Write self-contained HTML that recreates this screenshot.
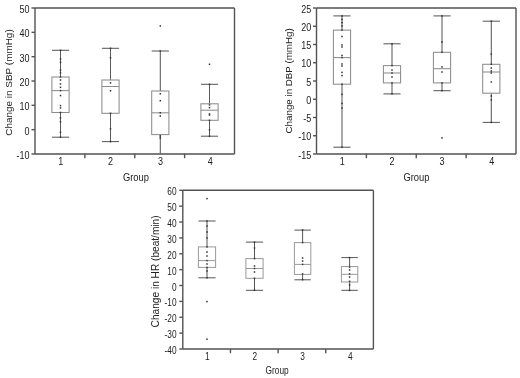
<!DOCTYPE html>
<html><head><meta charset="utf-8"><style>
html,body{margin:0;padding:0;background:#fff;}
svg{display:block;filter:blur(0.3px);}
text{font-family:"Liberation Sans", sans-serif;fill:#222;}
</style></head><body>
<svg width="520" height="378" viewBox="0 0 520 378">
<rect width="520" height="378" fill="#fff"/>
<line x1="35.00" y1="8.00" x2="234.50" y2="8.00" stroke="#525252" stroke-width="1.4"/>
<line x1="234.50" y1="8.00" x2="234.50" y2="154.00" stroke="#525252" stroke-width="1.4"/>
<line x1="35.00" y1="154.00" x2="234.50" y2="154.00" stroke="#525252" stroke-width="1.4"/>
<line x1="35.00" y1="8.00" x2="35.00" y2="154.00" stroke="#525252" stroke-width="1.4"/>
<line x1="31.50" y1="8.00" x2="35.00" y2="8.00" stroke="#525252" stroke-width="1.4"/>
<text x="0" y="0" font-size="10.5" text-anchor="end" transform="translate(29.60,13.00) scale(0.86,1)" >50</text>
<line x1="31.50" y1="32.33" x2="35.00" y2="32.33" stroke="#525252" stroke-width="1.4"/>
<text x="0" y="0" font-size="10.5" text-anchor="end" transform="translate(29.60,37.33) scale(0.86,1)" >40</text>
<line x1="31.50" y1="56.67" x2="35.00" y2="56.67" stroke="#525252" stroke-width="1.4"/>
<text x="0" y="0" font-size="10.5" text-anchor="end" transform="translate(29.60,61.67) scale(0.86,1)" >30</text>
<line x1="31.50" y1="81.00" x2="35.00" y2="81.00" stroke="#525252" stroke-width="1.4"/>
<text x="0" y="0" font-size="10.5" text-anchor="end" transform="translate(29.60,86.00) scale(0.86,1)" >20</text>
<line x1="31.50" y1="105.33" x2="35.00" y2="105.33" stroke="#525252" stroke-width="1.4"/>
<text x="0" y="0" font-size="10.5" text-anchor="end" transform="translate(29.60,110.33) scale(0.86,1)" >10</text>
<line x1="31.50" y1="129.67" x2="35.00" y2="129.67" stroke="#525252" stroke-width="1.4"/>
<text x="0" y="0" font-size="10.5" text-anchor="end" transform="translate(29.60,134.67) scale(0.86,1)" >0</text>
<line x1="31.50" y1="154.00" x2="35.00" y2="154.00" stroke="#525252" stroke-width="1.4"/>
<text x="0" y="0" font-size="10.5" text-anchor="end" transform="translate(29.60,159.00) scale(0.86,1)" >-10</text>
<line x1="84.88" y1="154.00" x2="84.88" y2="158.20" stroke="#525252" stroke-width="1.4"/>
<line x1="134.75" y1="154.00" x2="134.75" y2="158.20" stroke="#525252" stroke-width="1.4"/>
<line x1="184.62" y1="154.00" x2="184.62" y2="158.20" stroke="#525252" stroke-width="1.4"/>
<text x="0" y="0" font-size="10.5" text-anchor="middle" transform="translate(60.74,165.00) scale(0.86,1)" >1</text>
<text x="0" y="0" font-size="10.5" text-anchor="middle" transform="translate(110.61,165.00) scale(0.86,1)" >2</text>
<text x="0" y="0" font-size="10.5" text-anchor="middle" transform="translate(160.49,165.00) scale(0.86,1)" >3</text>
<text x="0" y="0" font-size="10.5" text-anchor="middle" transform="translate(210.36,165.00) scale(0.86,1)" >4</text>
<text x="0" y="0" font-size="10.2" text-anchor="middle" transform="translate(135.95,180.70) scale(0.92,1)" >Group</text>
<text x="0" y="0" font-size="9.95" text-anchor="middle" transform="translate(12.00,82.50) rotate(-90) scale(1.0,1)">Change in SBP (mmHg)</text>
<line x1="60.50" y1="50.30" x2="60.50" y2="77.00" stroke="#5a5a5a" stroke-width="1.05"/>
<line x1="60.50" y1="112.50" x2="60.50" y2="137.20" stroke="#5a5a5a" stroke-width="1.05"/>
<line x1="51.90" y1="50.30" x2="69.10" y2="50.30" stroke="#5a5a5a" stroke-width="1.05"/>
<line x1="51.90" y1="137.20" x2="69.10" y2="137.20" stroke="#5a5a5a" stroke-width="1.05"/>
<rect x="51.90" y="77.00" width="17.20" height="35.50" fill="none" stroke="#8c8c8c" stroke-width="1.05"/>
<line x1="51.90" y1="90.60" x2="69.10" y2="90.60" stroke="#8c8c8c" stroke-width="1.05"/>
<rect x="59.75" y="49.55" width="1.50" height="1.50" fill="#333"/>
<rect x="59.75" y="58.15" width="1.50" height="1.50" fill="#333"/>
<rect x="59.75" y="61.45" width="1.50" height="1.50" fill="#333"/>
<rect x="59.75" y="69.35" width="1.50" height="1.50" fill="#333"/>
<rect x="59.75" y="72.05" width="1.50" height="1.50" fill="#333"/>
<rect x="59.75" y="76.25" width="1.50" height="1.50" fill="#333"/>
<rect x="59.75" y="79.25" width="1.50" height="1.50" fill="#333"/>
<rect x="59.75" y="83.25" width="1.50" height="1.50" fill="#333"/>
<rect x="59.75" y="86.55" width="1.50" height="1.50" fill="#333"/>
<rect x="59.75" y="89.85" width="1.50" height="1.50" fill="#333"/>
<rect x="59.75" y="94.85" width="1.50" height="1.50" fill="#333"/>
<rect x="59.75" y="104.85" width="1.50" height="1.50" fill="#333"/>
<rect x="59.75" y="107.15" width="1.50" height="1.50" fill="#333"/>
<rect x="59.75" y="111.75" width="1.50" height="1.50" fill="#333"/>
<rect x="59.75" y="117.05" width="1.50" height="1.50" fill="#333"/>
<rect x="59.75" y="120.95" width="1.50" height="1.50" fill="#333"/>
<rect x="59.75" y="131.55" width="1.50" height="1.50" fill="#333"/>
<rect x="59.75" y="136.45" width="1.50" height="1.50" fill="#333"/>
<line x1="110.50" y1="48.30" x2="110.50" y2="80.00" stroke="#5a5a5a" stroke-width="1.05"/>
<line x1="110.50" y1="113.30" x2="110.50" y2="141.60" stroke="#5a5a5a" stroke-width="1.05"/>
<line x1="101.90" y1="48.30" x2="119.10" y2="48.30" stroke="#5a5a5a" stroke-width="1.05"/>
<line x1="101.90" y1="141.60" x2="119.10" y2="141.60" stroke="#5a5a5a" stroke-width="1.05"/>
<rect x="101.90" y="80.00" width="17.20" height="33.30" fill="none" stroke="#8c8c8c" stroke-width="1.05"/>
<line x1="101.90" y1="86.50" x2="119.10" y2="86.50" stroke="#8c8c8c" stroke-width="1.05"/>
<rect x="109.75" y="47.55" width="1.50" height="1.50" fill="#333"/>
<rect x="109.75" y="57.05" width="1.50" height="1.50" fill="#333"/>
<rect x="109.75" y="82.15" width="1.50" height="1.50" fill="#333"/>
<rect x="109.75" y="90.05" width="1.50" height="1.50" fill="#333"/>
<rect x="109.75" y="112.55" width="1.50" height="1.50" fill="#333"/>
<rect x="109.75" y="128.15" width="1.50" height="1.50" fill="#333"/>
<rect x="109.75" y="140.85" width="1.50" height="1.50" fill="#333"/>
<line x1="160.30" y1="51.00" x2="160.30" y2="91.00" stroke="#5a5a5a" stroke-width="1.05"/>
<line x1="160.30" y1="134.60" x2="160.30" y2="154.00" stroke="#5a5a5a" stroke-width="1.05"/>
<line x1="151.70" y1="51.00" x2="168.90" y2="51.00" stroke="#5a5a5a" stroke-width="1.05"/>
<rect x="151.70" y="91.00" width="17.20" height="43.60" fill="none" stroke="#8c8c8c" stroke-width="1.05"/>
<line x1="151.70" y1="112.80" x2="168.90" y2="112.80" stroke="#8c8c8c" stroke-width="1.05"/>
<rect x="159.55" y="50.25" width="1.50" height="1.50" fill="#333"/>
<rect x="159.55" y="93.05" width="1.50" height="1.50" fill="#333"/>
<rect x="159.55" y="99.95" width="1.50" height="1.50" fill="#333"/>
<rect x="159.55" y="112.05" width="1.50" height="1.50" fill="#333"/>
<rect x="159.55" y="115.25" width="1.50" height="1.50" fill="#333"/>
<rect x="159.55" y="135.25" width="1.50" height="1.50" fill="#333"/>
<rect x="159.55" y="137.25" width="1.50" height="1.50" fill="#333"/>
<rect x="159.55" y="25.25" width="1.50" height="1.50" fill="#333"/>
<line x1="209.50" y1="84.30" x2="209.50" y2="103.80" stroke="#5a5a5a" stroke-width="1.05"/>
<line x1="209.50" y1="120.30" x2="209.50" y2="136.20" stroke="#5a5a5a" stroke-width="1.05"/>
<line x1="200.90" y1="84.30" x2="218.10" y2="84.30" stroke="#5a5a5a" stroke-width="1.05"/>
<line x1="200.90" y1="136.20" x2="218.10" y2="136.20" stroke="#5a5a5a" stroke-width="1.05"/>
<rect x="200.90" y="103.80" width="17.20" height="16.50" fill="none" stroke="#8c8c8c" stroke-width="1.05"/>
<line x1="200.90" y1="110.20" x2="218.10" y2="110.20" stroke="#8c8c8c" stroke-width="1.05"/>
<rect x="208.75" y="83.55" width="1.50" height="1.50" fill="#333"/>
<rect x="208.75" y="104.15" width="1.50" height="1.50" fill="#333"/>
<rect x="208.75" y="106.85" width="1.50" height="1.50" fill="#333"/>
<rect x="208.75" y="113.25" width="1.50" height="1.50" fill="#333"/>
<rect x="208.75" y="114.25" width="1.50" height="1.50" fill="#333"/>
<rect x="208.75" y="119.55" width="1.50" height="1.50" fill="#333"/>
<rect x="208.75" y="129.05" width="1.50" height="1.50" fill="#333"/>
<rect x="208.75" y="135.45" width="1.50" height="1.50" fill="#333"/>
<rect x="208.75" y="63.55" width="1.50" height="1.50" fill="#333"/>
<line x1="316.50" y1="8.00" x2="516.00" y2="8.00" stroke="#525252" stroke-width="1.4"/>
<line x1="516.00" y1="8.00" x2="516.00" y2="154.00" stroke="#525252" stroke-width="1.4"/>
<line x1="316.50" y1="154.00" x2="516.00" y2="154.00" stroke="#525252" stroke-width="1.4"/>
<line x1="316.50" y1="8.00" x2="316.50" y2="154.00" stroke="#525252" stroke-width="1.4"/>
<line x1="313.00" y1="8.00" x2="316.50" y2="8.00" stroke="#525252" stroke-width="1.4"/>
<text x="0" y="0" font-size="10.5" text-anchor="end" transform="translate(311.30,12.60) scale(0.86,1)" >25</text>
<line x1="313.00" y1="26.25" x2="316.50" y2="26.25" stroke="#525252" stroke-width="1.4"/>
<text x="0" y="0" font-size="10.5" text-anchor="end" transform="translate(311.30,30.85) scale(0.86,1)" >20</text>
<line x1="313.00" y1="44.50" x2="316.50" y2="44.50" stroke="#525252" stroke-width="1.4"/>
<text x="0" y="0" font-size="10.5" text-anchor="end" transform="translate(311.30,49.10) scale(0.86,1)" >15</text>
<line x1="313.00" y1="62.75" x2="316.50" y2="62.75" stroke="#525252" stroke-width="1.4"/>
<text x="0" y="0" font-size="10.5" text-anchor="end" transform="translate(311.30,67.35) scale(0.86,1)" >10</text>
<line x1="313.00" y1="81.00" x2="316.50" y2="81.00" stroke="#525252" stroke-width="1.4"/>
<text x="0" y="0" font-size="10.5" text-anchor="end" transform="translate(311.30,85.60) scale(0.86,1)" >5</text>
<line x1="313.00" y1="99.25" x2="316.50" y2="99.25" stroke="#525252" stroke-width="1.4"/>
<text x="0" y="0" font-size="10.5" text-anchor="end" transform="translate(311.30,103.85) scale(0.86,1)" >0</text>
<line x1="313.00" y1="117.50" x2="316.50" y2="117.50" stroke="#525252" stroke-width="1.4"/>
<text x="0" y="0" font-size="10.5" text-anchor="end" transform="translate(311.30,122.10) scale(0.86,1)" >-5</text>
<line x1="313.00" y1="135.75" x2="316.50" y2="135.75" stroke="#525252" stroke-width="1.4"/>
<text x="0" y="0" font-size="10.5" text-anchor="end" transform="translate(311.30,140.35) scale(0.86,1)" >-10</text>
<line x1="313.00" y1="154.00" x2="316.50" y2="154.00" stroke="#525252" stroke-width="1.4"/>
<text x="0" y="0" font-size="10.5" text-anchor="end" transform="translate(311.30,158.60) scale(0.86,1)" >-15</text>
<line x1="366.38" y1="154.00" x2="366.38" y2="158.20" stroke="#525252" stroke-width="1.4"/>
<line x1="416.25" y1="154.00" x2="416.25" y2="158.20" stroke="#525252" stroke-width="1.4"/>
<line x1="466.12" y1="154.00" x2="466.12" y2="158.20" stroke="#525252" stroke-width="1.4"/>
<text x="0" y="0" font-size="10.5" text-anchor="middle" transform="translate(342.24,165.00) scale(0.86,1)" >1</text>
<text x="0" y="0" font-size="10.5" text-anchor="middle" transform="translate(392.11,165.00) scale(0.86,1)" >2</text>
<text x="0" y="0" font-size="10.5" text-anchor="middle" transform="translate(441.99,165.00) scale(0.86,1)" >3</text>
<text x="0" y="0" font-size="10.5" text-anchor="middle" transform="translate(491.86,165.00) scale(0.86,1)" >4</text>
<text x="0" y="0" font-size="10.2" text-anchor="middle" transform="translate(416.45,180.90) scale(0.92,1)" >Group</text>
<text x="0" y="0" font-size="9.77" text-anchor="middle" transform="translate(292.00,80.90) rotate(-90) scale(1.0,1)">Change in DBP (mmHg)</text>
<line x1="342.00" y1="15.90" x2="342.00" y2="30.10" stroke="#5a5a5a" stroke-width="1.05"/>
<line x1="342.00" y1="84.20" x2="342.00" y2="147.20" stroke="#5a5a5a" stroke-width="1.05"/>
<line x1="333.40" y1="15.90" x2="350.60" y2="15.90" stroke="#5a5a5a" stroke-width="1.05"/>
<line x1="333.40" y1="147.20" x2="350.60" y2="147.20" stroke="#5a5a5a" stroke-width="1.05"/>
<rect x="333.40" y="30.10" width="17.20" height="54.10" fill="none" stroke="#8c8c8c" stroke-width="1.05"/>
<line x1="333.40" y1="57.60" x2="350.60" y2="57.60" stroke="#8c8c8c" stroke-width="1.05"/>
<rect x="341.25" y="15.15" width="1.50" height="1.50" fill="#333"/>
<rect x="341.25" y="18.75" width="1.50" height="1.50" fill="#333"/>
<rect x="341.25" y="21.95" width="1.50" height="1.50" fill="#333"/>
<rect x="341.25" y="25.15" width="1.50" height="1.50" fill="#333"/>
<rect x="341.25" y="29.35" width="1.50" height="1.50" fill="#333"/>
<rect x="341.25" y="35.75" width="1.50" height="1.50" fill="#333"/>
<rect x="341.25" y="44.25" width="1.50" height="1.50" fill="#333"/>
<rect x="341.25" y="46.25" width="1.50" height="1.50" fill="#333"/>
<rect x="341.25" y="54.75" width="1.50" height="1.50" fill="#333"/>
<rect x="341.25" y="56.85" width="1.50" height="1.50" fill="#333"/>
<rect x="341.25" y="63.25" width="1.50" height="1.50" fill="#333"/>
<rect x="341.25" y="65.25" width="1.50" height="1.50" fill="#333"/>
<rect x="341.25" y="71.65" width="1.50" height="1.50" fill="#333"/>
<rect x="341.25" y="74.85" width="1.50" height="1.50" fill="#333"/>
<rect x="341.25" y="83.45" width="1.50" height="1.50" fill="#333"/>
<rect x="341.25" y="93.55" width="1.50" height="1.50" fill="#333"/>
<rect x="341.25" y="102.65" width="1.50" height="1.50" fill="#333"/>
<rect x="341.25" y="107.35" width="1.50" height="1.50" fill="#333"/>
<rect x="341.25" y="146.45" width="1.50" height="1.50" fill="#333"/>
<line x1="392.00" y1="43.80" x2="392.00" y2="65.60" stroke="#5a5a5a" stroke-width="1.05"/>
<line x1="392.00" y1="82.90" x2="392.00" y2="93.90" stroke="#5a5a5a" stroke-width="1.05"/>
<line x1="383.40" y1="43.80" x2="400.60" y2="43.80" stroke="#5a5a5a" stroke-width="1.05"/>
<line x1="383.40" y1="93.90" x2="400.60" y2="93.90" stroke="#5a5a5a" stroke-width="1.05"/>
<rect x="383.40" y="65.60" width="17.20" height="17.30" fill="none" stroke="#8c8c8c" stroke-width="1.05"/>
<line x1="383.40" y1="73.00" x2="400.60" y2="73.00" stroke="#8c8c8c" stroke-width="1.05"/>
<rect x="391.25" y="43.05" width="1.50" height="1.50" fill="#333"/>
<rect x="391.25" y="64.85" width="1.50" height="1.50" fill="#333"/>
<rect x="391.25" y="69.25" width="1.50" height="1.50" fill="#333"/>
<rect x="391.25" y="72.25" width="1.50" height="1.50" fill="#333"/>
<rect x="391.25" y="76.25" width="1.50" height="1.50" fill="#333"/>
<rect x="391.25" y="82.15" width="1.50" height="1.50" fill="#333"/>
<rect x="391.25" y="93.15" width="1.50" height="1.50" fill="#333"/>
<line x1="442.00" y1="15.90" x2="442.00" y2="52.30" stroke="#5a5a5a" stroke-width="1.05"/>
<line x1="442.00" y1="82.90" x2="442.00" y2="90.70" stroke="#5a5a5a" stroke-width="1.05"/>
<line x1="433.40" y1="15.90" x2="450.60" y2="15.90" stroke="#5a5a5a" stroke-width="1.05"/>
<line x1="433.40" y1="90.70" x2="450.60" y2="90.70" stroke="#5a5a5a" stroke-width="1.05"/>
<rect x="433.40" y="52.30" width="17.20" height="30.60" fill="none" stroke="#8c8c8c" stroke-width="1.05"/>
<line x1="433.40" y1="68.70" x2="450.60" y2="68.70" stroke="#8c8c8c" stroke-width="1.05"/>
<rect x="441.25" y="15.15" width="1.50" height="1.50" fill="#333"/>
<rect x="441.25" y="41.25" width="1.50" height="1.50" fill="#333"/>
<rect x="441.25" y="51.55" width="1.50" height="1.50" fill="#333"/>
<rect x="441.25" y="66.25" width="1.50" height="1.50" fill="#333"/>
<rect x="441.25" y="71.25" width="1.50" height="1.50" fill="#333"/>
<rect x="441.25" y="82.15" width="1.50" height="1.50" fill="#333"/>
<rect x="441.25" y="89.95" width="1.50" height="1.50" fill="#333"/>
<rect x="441.25" y="137.15" width="1.50" height="1.50" fill="#333"/>
<line x1="491.30" y1="21.20" x2="491.30" y2="64.30" stroke="#5a5a5a" stroke-width="1.05"/>
<line x1="491.30" y1="93.20" x2="491.30" y2="122.40" stroke="#5a5a5a" stroke-width="1.05"/>
<line x1="482.70" y1="21.20" x2="499.90" y2="21.20" stroke="#5a5a5a" stroke-width="1.05"/>
<line x1="482.70" y1="122.40" x2="499.90" y2="122.40" stroke="#5a5a5a" stroke-width="1.05"/>
<rect x="482.70" y="64.30" width="17.20" height="28.90" fill="none" stroke="#8c8c8c" stroke-width="1.05"/>
<line x1="482.70" y1="72.00" x2="499.90" y2="72.00" stroke="#8c8c8c" stroke-width="1.05"/>
<rect x="490.55" y="20.45" width="1.50" height="1.50" fill="#333"/>
<rect x="490.55" y="53.25" width="1.50" height="1.50" fill="#333"/>
<rect x="490.55" y="63.55" width="1.50" height="1.50" fill="#333"/>
<rect x="490.55" y="67.25" width="1.50" height="1.50" fill="#333"/>
<rect x="490.55" y="70.25" width="1.50" height="1.50" fill="#333"/>
<rect x="490.55" y="72.25" width="1.50" height="1.50" fill="#333"/>
<rect x="490.55" y="81.25" width="1.50" height="1.50" fill="#333"/>
<rect x="490.55" y="95.25" width="1.50" height="1.50" fill="#333"/>
<rect x="490.55" y="99.25" width="1.50" height="1.50" fill="#333"/>
<rect x="490.55" y="121.65" width="1.50" height="1.50" fill="#333"/>
<line x1="182.80" y1="190.30" x2="373.40" y2="190.30" stroke="#525252" stroke-width="1.4"/>
<line x1="373.40" y1="190.30" x2="373.40" y2="349.00" stroke="#525252" stroke-width="1.4"/>
<line x1="182.80" y1="349.00" x2="373.40" y2="349.00" stroke="#525252" stroke-width="1.4"/>
<line x1="182.80" y1="190.30" x2="182.80" y2="349.00" stroke="#525252" stroke-width="1.4"/>
<line x1="179.30" y1="190.30" x2="182.80" y2="190.30" stroke="#525252" stroke-width="1.4"/>
<text x="0" y="0" font-size="10.5" text-anchor="end" transform="translate(176.50,195.30) scale(0.79,1)" >60</text>
<line x1="179.30" y1="206.17" x2="182.80" y2="206.17" stroke="#525252" stroke-width="1.4"/>
<text x="0" y="0" font-size="10.5" text-anchor="end" transform="translate(176.50,211.17) scale(0.79,1)" >50</text>
<line x1="179.30" y1="222.04" x2="182.80" y2="222.04" stroke="#525252" stroke-width="1.4"/>
<text x="0" y="0" font-size="10.5" text-anchor="end" transform="translate(176.50,227.04) scale(0.79,1)" >40</text>
<line x1="179.30" y1="237.91" x2="182.80" y2="237.91" stroke="#525252" stroke-width="1.4"/>
<text x="0" y="0" font-size="10.5" text-anchor="end" transform="translate(176.50,242.91) scale(0.79,1)" >30</text>
<line x1="179.30" y1="253.78" x2="182.80" y2="253.78" stroke="#525252" stroke-width="1.4"/>
<text x="0" y="0" font-size="10.5" text-anchor="end" transform="translate(176.50,258.78) scale(0.79,1)" >20</text>
<line x1="179.30" y1="269.65" x2="182.80" y2="269.65" stroke="#525252" stroke-width="1.4"/>
<text x="0" y="0" font-size="10.5" text-anchor="end" transform="translate(176.50,274.65) scale(0.79,1)" >10</text>
<line x1="179.30" y1="285.52" x2="182.80" y2="285.52" stroke="#525252" stroke-width="1.4"/>
<text x="0" y="0" font-size="10.5" text-anchor="end" transform="translate(176.50,290.52) scale(0.79,1)" >0</text>
<line x1="179.30" y1="301.39" x2="182.80" y2="301.39" stroke="#525252" stroke-width="1.4"/>
<text x="0" y="0" font-size="10.5" text-anchor="end" transform="translate(176.50,306.39) scale(0.79,1)" >-10</text>
<line x1="179.30" y1="317.26" x2="182.80" y2="317.26" stroke="#525252" stroke-width="1.4"/>
<text x="0" y="0" font-size="10.5" text-anchor="end" transform="translate(176.50,322.26) scale(0.79,1)" >-20</text>
<line x1="179.30" y1="333.13" x2="182.80" y2="333.13" stroke="#525252" stroke-width="1.4"/>
<text x="0" y="0" font-size="10.5" text-anchor="end" transform="translate(176.50,338.13) scale(0.79,1)" >-30</text>
<line x1="179.30" y1="349.00" x2="182.80" y2="349.00" stroke="#525252" stroke-width="1.4"/>
<text x="0" y="0" font-size="10.5" text-anchor="end" transform="translate(176.50,354.00) scale(0.79,1)" >-40</text>
<line x1="230.45" y1="349.00" x2="230.45" y2="353.20" stroke="#525252" stroke-width="1.4"/>
<line x1="278.10" y1="349.00" x2="278.10" y2="353.20" stroke="#525252" stroke-width="1.4"/>
<line x1="325.75" y1="349.00" x2="325.75" y2="353.20" stroke="#525252" stroke-width="1.4"/>
<text x="0" y="0" font-size="10.5" text-anchor="middle" transform="translate(207.22,360.00) scale(0.79,1)" >1</text>
<text x="0" y="0" font-size="10.5" text-anchor="middle" transform="translate(254.88,360.00) scale(0.79,1)" >2</text>
<text x="0" y="0" font-size="10.5" text-anchor="middle" transform="translate(302.52,360.00) scale(0.79,1)" >3</text>
<text x="0" y="0" font-size="10.5" text-anchor="middle" transform="translate(350.18,360.00) scale(0.79,1)" >4</text>
<text x="0" y="0" font-size="10.4" text-anchor="middle" transform="translate(277.10,373.60) scale(0.8,1)" >Group</text>
<text x="0" y="0" font-size="10.15" text-anchor="middle" transform="translate(158.50,271.40) rotate(-90) scale(1.0,1)">Change in HR (beat/min)</text>
<line x1="207.00" y1="221.00" x2="207.00" y2="246.90" stroke="#555" stroke-width="1.0"/>
<line x1="207.00" y1="267.40" x2="207.00" y2="277.80" stroke="#555" stroke-width="1.0"/>
<line x1="198.40" y1="221.00" x2="215.60" y2="221.00" stroke="#555" stroke-width="1.0"/>
<line x1="198.40" y1="277.80" x2="215.60" y2="277.80" stroke="#555" stroke-width="1.0"/>
<rect x="198.40" y="246.90" width="17.20" height="20.50" fill="none" stroke="#999" stroke-width="1.0"/>
<line x1="198.40" y1="260.60" x2="215.60" y2="260.60" stroke="#999" stroke-width="1.0"/>
<rect x="206.25" y="220.25" width="1.50" height="1.50" fill="#333"/>
<rect x="206.25" y="225.25" width="1.50" height="1.50" fill="#333"/>
<rect x="206.25" y="231.25" width="1.50" height="1.50" fill="#333"/>
<rect x="206.25" y="237.25" width="1.50" height="1.50" fill="#333"/>
<rect x="206.25" y="246.15" width="1.50" height="1.50" fill="#333"/>
<rect x="206.25" y="251.25" width="1.50" height="1.50" fill="#333"/>
<rect x="206.25" y="255.25" width="1.50" height="1.50" fill="#333"/>
<rect x="206.25" y="259.85" width="1.50" height="1.50" fill="#333"/>
<rect x="206.25" y="263.25" width="1.50" height="1.50" fill="#333"/>
<rect x="206.25" y="266.65" width="1.50" height="1.50" fill="#333"/>
<rect x="206.25" y="270.25" width="1.50" height="1.50" fill="#333"/>
<rect x="206.25" y="277.05" width="1.50" height="1.50" fill="#333"/>
<rect x="206.25" y="197.85" width="1.50" height="1.50" fill="#333"/>
<rect x="206.25" y="300.85" width="1.50" height="1.50" fill="#333"/>
<rect x="206.25" y="338.45" width="1.50" height="1.50" fill="#333"/>
<line x1="254.50" y1="242.10" x2="254.50" y2="258.60" stroke="#555" stroke-width="1.0"/>
<line x1="254.50" y1="278.30" x2="254.50" y2="290.30" stroke="#555" stroke-width="1.0"/>
<line x1="245.90" y1="242.10" x2="263.10" y2="242.10" stroke="#555" stroke-width="1.0"/>
<line x1="245.90" y1="290.30" x2="263.10" y2="290.30" stroke="#555" stroke-width="1.0"/>
<rect x="245.90" y="258.60" width="17.20" height="19.70" fill="none" stroke="#999" stroke-width="1.0"/>
<line x1="245.90" y1="268.50" x2="263.10" y2="268.50" stroke="#999" stroke-width="1.0"/>
<rect x="253.75" y="241.35" width="1.50" height="1.50" fill="#333"/>
<rect x="253.75" y="247.25" width="1.50" height="1.50" fill="#333"/>
<rect x="253.75" y="257.85" width="1.50" height="1.50" fill="#333"/>
<rect x="253.75" y="265.25" width="1.50" height="1.50" fill="#333"/>
<rect x="253.75" y="267.75" width="1.50" height="1.50" fill="#333"/>
<rect x="253.75" y="271.25" width="1.50" height="1.50" fill="#333"/>
<rect x="253.75" y="277.55" width="1.50" height="1.50" fill="#333"/>
<rect x="253.75" y="289.55" width="1.50" height="1.50" fill="#333"/>
<line x1="302.60" y1="230.10" x2="302.60" y2="242.60" stroke="#555" stroke-width="1.0"/>
<line x1="302.60" y1="274.40" x2="302.60" y2="279.80" stroke="#555" stroke-width="1.0"/>
<line x1="294.40" y1="230.10" x2="310.80" y2="230.10" stroke="#555" stroke-width="1.0"/>
<line x1="294.40" y1="279.80" x2="310.80" y2="279.80" stroke="#555" stroke-width="1.0"/>
<rect x="294.40" y="242.60" width="16.40" height="31.80" fill="none" stroke="#999" stroke-width="1.0"/>
<line x1="294.40" y1="264.40" x2="310.80" y2="264.40" stroke="#999" stroke-width="1.0"/>
<rect x="301.85" y="229.25" width="1.50" height="1.50" fill="#333"/>
<rect x="301.85" y="241.85" width="1.50" height="1.50" fill="#333"/>
<rect x="301.85" y="257.25" width="1.50" height="1.50" fill="#333"/>
<rect x="301.85" y="260.25" width="1.50" height="1.50" fill="#333"/>
<rect x="301.85" y="263.65" width="1.50" height="1.50" fill="#333"/>
<rect x="301.85" y="273.25" width="1.50" height="1.50" fill="#333"/>
<rect x="301.85" y="278.95" width="1.50" height="1.50" fill="#333"/>
<line x1="349.60" y1="257.60" x2="349.60" y2="266.60" stroke="#555" stroke-width="1.0"/>
<line x1="349.60" y1="282.00" x2="349.60" y2="290.30" stroke="#555" stroke-width="1.0"/>
<line x1="341.40" y1="257.60" x2="357.80" y2="257.60" stroke="#555" stroke-width="1.0"/>
<line x1="341.40" y1="290.30" x2="357.80" y2="290.30" stroke="#555" stroke-width="1.0"/>
<rect x="341.40" y="266.60" width="16.40" height="15.40" fill="none" stroke="#999" stroke-width="1.0"/>
<line x1="341.40" y1="274.30" x2="357.80" y2="274.30" stroke="#999" stroke-width="1.0"/>
<rect x="348.85" y="256.85" width="1.50" height="1.50" fill="#333"/>
<rect x="348.85" y="266.35" width="1.50" height="1.50" fill="#333"/>
<rect x="348.85" y="269.25" width="1.50" height="1.50" fill="#333"/>
<rect x="348.85" y="273.15" width="1.50" height="1.50" fill="#333"/>
<rect x="348.85" y="276.25" width="1.50" height="1.50" fill="#333"/>
<rect x="348.85" y="280.55" width="1.50" height="1.50" fill="#333"/>
<rect x="348.85" y="284.25" width="1.50" height="1.50" fill="#333"/>
<rect x="348.85" y="289.65" width="1.50" height="1.50" fill="#333"/>
</svg>
</body></html>
